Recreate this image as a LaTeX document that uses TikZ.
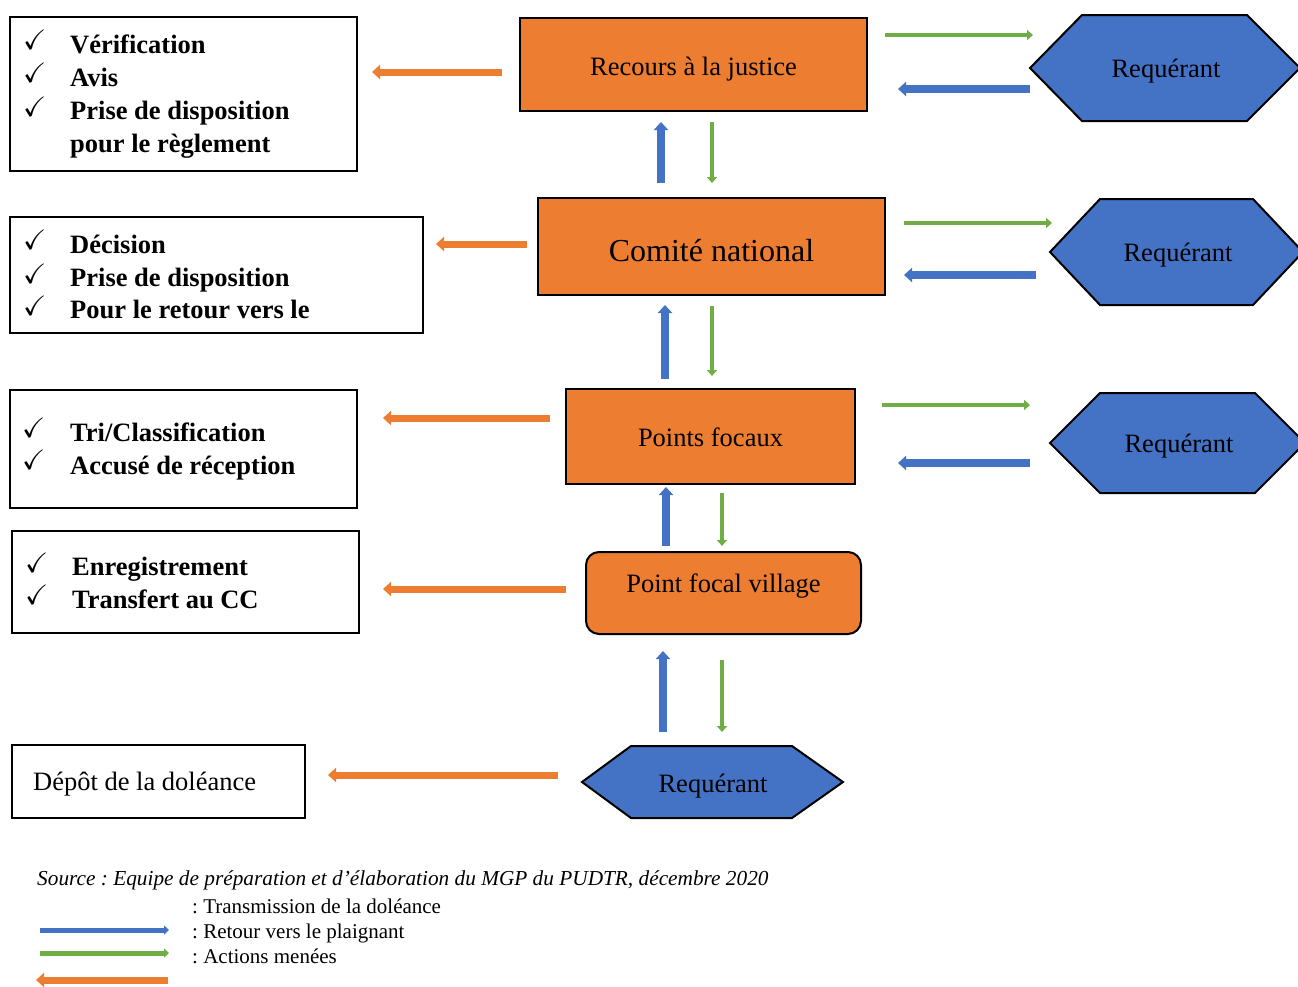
\documentclass[tikz,border=0pt]{standalone}
\usepackage{fontspec}
\setmainfont{Liberation Serif}
\usepackage{amssymb}
\usetikzlibrary{arrows.meta}
\definecolor{oorange}{HTML}{ED7D31}
\definecolor{oblue}{HTML}{4472C4}
\definecolor{ogreen}{HTML}{70AD47}
\tikzset{
  obox/.style={draw=black,line width=2pt,fill=oorange,rectangle,inner sep=0pt,font=\fontsize{26.5}{30}\selectfont},
  lbox/.style={draw=black,line width=2pt,rectangle,inner sep=0pt},
  hexa/.style={draw=black,line width=2pt,fill=oblue},
  htext/.style={anchor=base,inner sep=0pt,font=\fontsize{26.5}{30}\selectfont},
  chk/.style={anchor=base west,inner sep=0pt,font=\fontsize{28}{30}\selectfont},
  ltext/.style={anchor=base west,inner sep=0pt,font=\fontsize{26.5}{30}\selectfont\bfseries},
  legtext/.style={anchor=base west,inner sep=0pt,font=\fontsize{21}{24}\selectfont},
  barrow/.style={draw=oblue,line width=8pt,-{Triangle[length=8pt,width=14pt]}},
  garrow/.style={draw=ogreen,line width=4pt,-{Triangle[length=6pt,width=10pt]}},
  oarrow/.style={draw=oorange,line width=7pt,-{Triangle[length=8pt,width=14pt]}},
}
\frenchspacing
\begin{document}
\begin{tikzpicture}[x=1pt,y=-1pt]
\clip (0,0) rectangle (1298,986);
\fill[white] (0,0) rectangle (1298,986);

% orange process boxes
\node[obox,minimum width=347pt,minimum height=93pt,text height=21pt,text depth=0pt] (rec) at (693.5,64.5) {Recours à la justice};
\node[obox,minimum width=347pt,minimum height=97pt,font=\fontsize{32}{36}\selectfont,text height=29pt,text depth=0pt] (com) at (711.5,246.5) {Comité national};
\node[obox,minimum width=289pt,minimum height=95pt,text height=19pt,text depth=0pt] (pf) at (710.5,436.5) {Points focaux};
\node[obox,rounded corners=13pt,minimum width=275pt,minimum height=82pt,text height=10pt,text depth=12pt] (pfv) at (723.5,593) {Point focal village};

% hexagons
\draw[hexa] (1030,68) -- (1082,15) -- (1247,15) -- (1300,68) -- (1247,121) -- (1082,121) -- cycle;
\node[htext] (req1) at (1166,77) {Requérant};
\draw[hexa] (1050,252) -- (1100,199) -- (1253,199) -- (1303,252) -- (1253,305) -- (1100,305) -- cycle;
\node[htext] (req2) at (1178,261) {Requérant};
\draw[hexa] (1050,443) -- (1100,393) -- (1255,393) -- (1305,443) -- (1255,493) -- (1100,493) -- cycle;
\node[htext] (req3) at (1179,452) {Requérant};
\draw[hexa] (582,782) -- (631,746) -- (792,746) -- (843,782) -- (792,818) -- (631,818) -- cycle;
\node[htext] (req0) at (713,792) {Requérant};

% left boxes
\node[lbox,minimum width=347pt,minimum height=154pt] (b1) at (183.5,94) {};
\node[chk] (c11) at (23,49) {$\checkmark$};
\node[chk] (c12) at (23,82) {$\checkmark$};
\node[chk] (c13) at (23,116) {$\checkmark$};
\node[ltext] (t11) at (70,53) {Vérification};
\node[ltext] (t12) at (70,86) {Avis};
\node[ltext] (t13) at (70,119) {Prise de disposition};
\node[ltext] (t14) at (70,152) {pour le règlement};

\node[lbox,minimum width=413pt,minimum height=116pt] (b2) at (216.5,275) {};
\node[chk] (c21) at (23,249) {$\checkmark$};
\node[chk] (c22) at (23,283) {$\checkmark$};
\node[chk] (c23) at (23,315) {$\checkmark$};
\node[ltext] (t21) at (70,253) {Décision};
\node[ltext] (t22) at (70,286) {Prise de disposition};
\node[ltext] (t23) at (70,318) {Pour le retour vers le};

\node[lbox,minimum width=347pt,minimum height=118pt] (b3) at (183.5,449) {};
\node[chk] (c31) at (22,437) {$\checkmark$};
\node[chk] (c32) at (22,469) {$\checkmark$};
\node[ltext] (t31) at (70,441) {Tri/Classification};
\node[ltext] (t32) at (70,474) {Accusé de réception};

\node[lbox,minimum width=347pt,minimum height=102pt] (b4) at (185.5,582) {};
\node[chk] (c41) at (25,572) {$\checkmark$};
\node[chk] (c42) at (25,604) {$\checkmark$};
\node[ltext] (t41) at (72,575) {Enregistrement};
\node[ltext] (t42) at (72,608) {Transfert au CC};

\node[lbox,minimum width=293pt,minimum height=73pt] (b5) at (158.5,781.5) {};
\node[ltext,font=\fontsize{26.5}{30}\selectfont] (t51) at (33,790) {Dépôt de la doléance};

% arrow end points
\coordinate (o1s) at (502,72);  \coordinate (o1e) at (372,72);
\coordinate (o2s) at (527,244); \coordinate (o2e) at (436,244);
\coordinate (o3s) at (550,418); \coordinate (o3e) at (383,418);
\coordinate (o4s) at (566,589); \coordinate (o4e) at (383,589);
\coordinate (o5s) at (558,775); \coordinate (o5e) at (328,775);
\draw[oarrow] (o1s) -- (o1e);
\draw[oarrow] (o2s) -- (o2e);
\draw[oarrow] (o3s) -- (o3e);
\draw[oarrow] (o4s) -- (o4e);
\draw[oarrow] (o5s) -- (o5e);

% right side horizontal arrows
\coordinate (g1s) at (885,35);  \coordinate (g1e) at (1033,35);
\coordinate (h1s) at (1030,89); \coordinate (h1e) at (898,89);
\coordinate (g2s) at (904,223); \coordinate (g2e) at (1052,223);
\coordinate (h2s) at (1036,275); \coordinate (h2e) at (904,275);
\coordinate (g3s) at (882,405); \coordinate (g3e) at (1030,405);
\coordinate (h3s) at (1030,463); \coordinate (h3e) at (898,463);
\draw[garrow] (g1s) -- (g1e);
\draw[barrow] (h1s) -- (h1e);
\draw[garrow] (g2s) -- (g2e);
\draw[barrow] (h2s) -- (h2e);
\draw[garrow] (g3s) -- (g3e);
\draw[barrow] (h3s) -- (h3e);

% vertical arrows
\coordinate (v1s) at (661,183); \coordinate (v1e) at (661,122);
\coordinate (w1s) at (712,122); \coordinate (w1e) at (712,183);
\coordinate (v2s) at (665,379); \coordinate (v2e) at (665,305);
\coordinate (w2s) at (712,306); \coordinate (w2e) at (712,376);
\coordinate (v3s) at (666,546); \coordinate (v3e) at (666,487);
\coordinate (w3s) at (722,493); \coordinate (w3e) at (722,546);
\coordinate (v4s) at (663,732); \coordinate (v4e) at (663,651);
\coordinate (w4s) at (722,660); \coordinate (w4e) at (722,732);
\draw[barrow] (v1s) -- (v1e);
\draw[garrow] (w1s) -- (w1e);
\draw[barrow] (v2s) -- (v2e);
\draw[garrow] (w2s) -- (w2e);
\draw[barrow] (v3s) -- (v3e);
\draw[garrow] (w3s) -- (w3e);
\draw[barrow] (v4s) -- (v4e);
\draw[garrow] (w4s) -- (w4e);

% source and legend
\node[legtext,font=\fontsize{21.3}{24}\selectfont\itshape] (src) at (37,885) {Source : Equipe de préparation et d’élaboration du MGP du PUDTR, décembre 2020};
\node[legtext] (lg1) at (192,913) {: Transmission de la doléance};
\node[legtext] (lg2) at (192,938) {: Retour vers le plaignant};
\node[legtext] (lg3) at (192,963) {: Actions menées};
\coordinate (lb1s) at (40,930);  \coordinate (lb1e) at (169,930);
\coordinate (lb2s) at (40,953);  \coordinate (lb2e) at (169,953);
\coordinate (lb3s) at (168,980); \coordinate (lb3e) at (36,980);
\draw[draw=oblue,line width=5pt,-{Triangle[length=5pt,width=9pt]}] (lb1s) -- (lb1e);
\draw[draw=ogreen,line width=5pt,-{Triangle[length=5pt,width=9pt]}] (lb2s) -- (lb2e);
\draw[oarrow] (lb3s) -- (lb3e);
\end{tikzpicture}
\end{document}
